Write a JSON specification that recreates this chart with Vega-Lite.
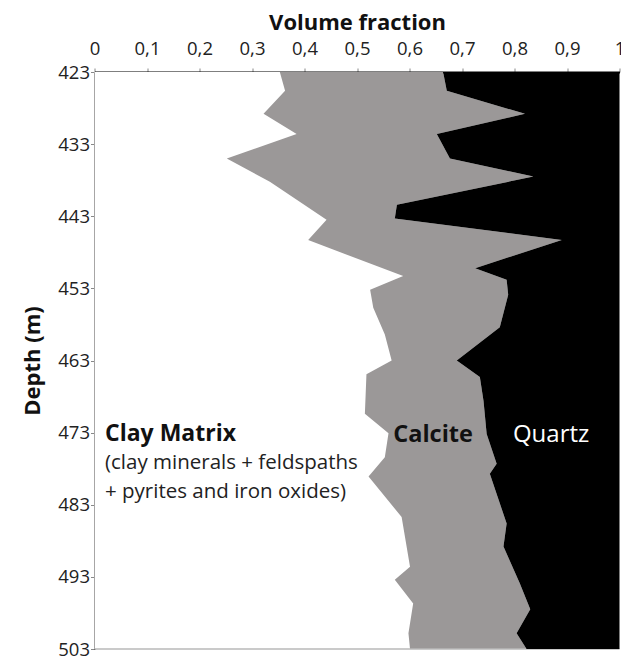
{
  "$schema": "https://vega.github.io/schema/vega-lite/v6.json",
  "width": 525,
  "height": 577,
  "autosize": {"type": "none"},
  "padding": {"left": 94.5, "top": 72, "right": 1.5, "bottom": 7},
  "background": "white",
  "config": {
    "view": {"stroke": null},
    "font": "Open Sans",
    "axis": {
      "zindex": 2, "grid": false, "domainColor": "#000", "domainWidth": 2,
      "tickColor": "#888", "tickSize": 4, "tickWidth": 1,
      "labelFontSize": 18.5, "labelColor": "#222", "labelFont": "Open Sans",
      "titleFontSize": 22, "titleFontWeight": "bold", "titleColor": "#111",
      "titleFont": "Open Sans"
    }
  },
  "datasets": {
    "clayTop": [
      {"depth": 423, "cumulative": 0.353},
      {"depth": 425.6, "cumulative": 0.363},
      {"depth": 428.8, "cumulative": 0.322},
      {"depth": 431.6, "cumulative": 0.385},
      {"depth": 435.0, "cumulative": 0.252},
      {"depth": 438.2, "cumulative": 0.334},
      {"depth": 443.5, "cumulative": 0.442},
      {"depth": 446.3, "cumulative": 0.407},
      {"depth": 451.3, "cumulative": 0.588},
      {"depth": 453.2, "cumulative": 0.525},
      {"depth": 455.7, "cumulative": 0.531},
      {"depth": 459.4, "cumulative": 0.553},
      {"depth": 463.0, "cumulative": 0.566},
      {"depth": 464.9, "cumulative": 0.518},
      {"depth": 470.4, "cumulative": 0.515},
      {"depth": 473.1, "cumulative": 0.560},
      {"depth": 476.4, "cumulative": 0.553},
      {"depth": 479.1, "cumulative": 0.522},
      {"depth": 484.7, "cumulative": 0.585},
      {"depth": 491.6, "cumulative": 0.601},
      {"depth": 493.4, "cumulative": 0.572},
      {"depth": 496.7, "cumulative": 0.607},
      {"depth": 500.8, "cumulative": 0.598},
      {"depth": 503, "cumulative": 0.601}
    ],
    "calciteTop": [
      {"depth": 423, "cumulative": 0.664},
      {"depth": 425.6, "cumulative": 0.671},
      {"depth": 428.8, "cumulative": 0.820},
      {"depth": 431.6, "cumulative": 0.652},
      {"depth": 435.0, "cumulative": 0.677},
      {"depth": 437.5, "cumulative": 0.836},
      {"depth": 441.4, "cumulative": 0.576},
      {"depth": 443.3, "cumulative": 0.572},
      {"depth": 446.3, "cumulative": 0.890},
      {"depth": 450.2, "cumulative": 0.725},
      {"depth": 451.8, "cumulative": 0.785},
      {"depth": 453.9, "cumulative": 0.788},
      {"depth": 458.4, "cumulative": 0.772},
      {"depth": 463.0, "cumulative": 0.690},
      {"depth": 465.3, "cumulative": 0.734},
      {"depth": 468.6, "cumulative": 0.741},
      {"depth": 473.2, "cumulative": 0.747},
      {"depth": 477.3, "cumulative": 0.766},
      {"depth": 478.7, "cumulative": 0.753},
      {"depth": 485.6, "cumulative": 0.785},
      {"depth": 488.8, "cumulative": 0.779},
      {"depth": 493.9, "cumulative": 0.810},
      {"depth": 497.5, "cumulative": 0.830},
      {"depth": 500.8, "cumulative": 0.804},
      {"depth": 503, "cumulative": 0.823}
    ],
    "one": [{}]
  },
  "layer": [
    {
      "data": {"name": "calciteTop"},
      "mark": {"type": "area", "orient": "horizontal", "color": "#9b9898"},
      "encoding": {
        "y": {
          "field": "depth", "type": "quantitative",
          "scale": {"domain": [423, 503], "reverse": true, "nice": false, "zero": false},
          "axis": {
            "title": "Depth (m)", "values": [423, 433, 443, 453, 463, 473, 483, 493, 503],
            "labelPadding": 1, "titlePadding": 13
          }
        },
        "x": {
          "field": "cumulative", "type": "quantitative",
          "scale": {"domain": [0, 1], "nice": false},
          "axis": {
            "orient": "top", "title": "Volume fraction",
            "values": [0, 0.1, 0.2, 0.3, 0.4, 0.5, 0.6, 0.7, 0.8, 0.9, 1],
            "labelExpr": "replace(format(datum.value, '.1~f'), '.', ',')",
            "labelPadding": 10, "labelFlush": false, "labelOverlap": false,
            "titlePadding": 5
          }
        },
        "x2": {"datum": 0}
      }
    },
    {
      "data": {"name": "clayTop"},
      "mark": {"type": "area", "orient": "horizontal", "color": "#ffffff"},
      "encoding": {
        "y": {"field": "depth", "type": "quantitative"},
        "x": {"field": "cumulative", "type": "quantitative"},
        "x2": {"datum": 0}
      }
    },
    {
      "data": {"name": "one"},
      "mark": {"type": "rule", "color": "#b8b8b8", "strokeWidth": 1.5},
      "encoding": {"y": {"datum": 503}, "x": {"datum": 0}, "x2": {"datum": 1}}
    },
    {
      "data": {"name": "calciteTop"},
      "mark": {"type": "area", "orient": "horizontal", "color": "#000000"},
      "encoding": {
        "y": {"field": "depth", "type": "quantitative"},
        "x": {"field": "cumulative", "type": "quantitative"},
        "x2": {"datum": 1}
      }
    },
    {
      "data": {"name": "one"},
      "mark": {"type": "text", "text": "Clay Matrix", "align": "left", "baseline": "alphabetic", "fontSize": 23, "fontWeight": "bold", "color": "#111", "font": "Open Sans"},
      "encoding": {"x": {"datum": 0.02}, "y": {"datum": 474.2}}
    },
    {
      "data": {"name": "one"},
      "mark": {"type": "text", "text": "(clay minerals + feldspaths", "align": "left", "baseline": "alphabetic", "fontSize": 20.5, "color": "#222", "font": "Open Sans"},
      "encoding": {"x": {"datum": 0.02}, "y": {"datum": 478.0}}
    },
    {
      "data": {"name": "one"},
      "mark": {"type": "text", "text": "+ pyrites and iron oxides)", "align": "left", "baseline": "alphabetic", "fontSize": 20.5, "color": "#222", "font": "Open Sans"},
      "encoding": {"x": {"datum": 0.02}, "y": {"datum": 482.1}}
    },
    {
      "data": {"name": "one"},
      "mark": {"type": "text", "text": "Calcite", "align": "left", "baseline": "alphabetic", "fontSize": 23.5, "fontWeight": "bold", "color": "#111", "font": "Open Sans"},
      "encoding": {"x": {"datum": 0.569}, "y": {"datum": 474.3}}
    },
    {
      "data": {"name": "one"},
      "mark": {"type": "text", "text": "Quartz", "align": "left", "baseline": "alphabetic", "fontSize": 24, "color": "#ffffff", "font": "Open Sans"},
      "encoding": {"x": {"datum": 0.797}, "y": {"datum": 474.3}}
    }
  ]
}
